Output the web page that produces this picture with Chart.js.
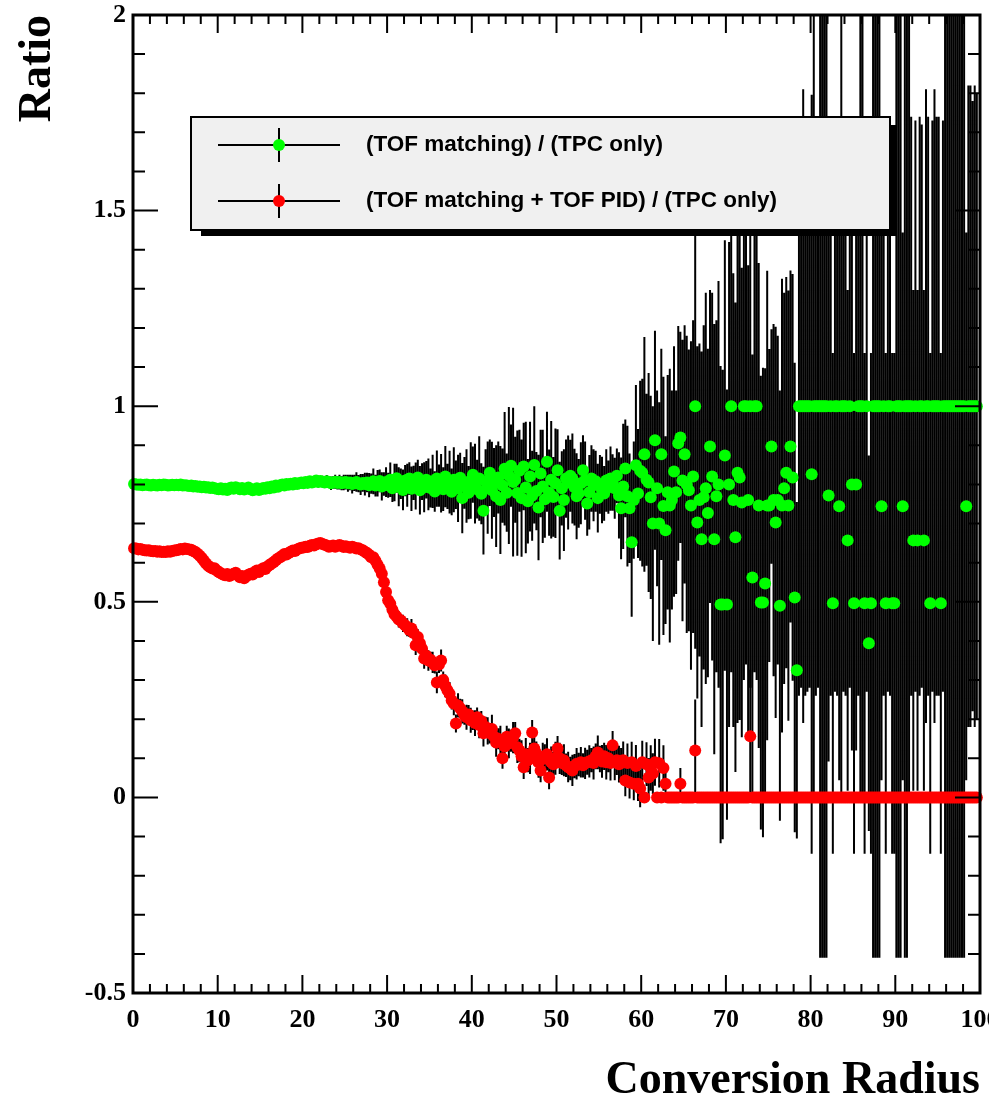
<!DOCTYPE html>
<html>
<head>
<meta charset="utf-8">
<title>Ratio vs Conversion Radius</title>
<script src="https://cdn.jsdelivr.net/npm/chart.js@4.4.1/dist/chart.umd.min.js"></script>
<style>
  html, body { margin: 0; padding: 0; background: #fff; }
  canvas { display: block; }
</style>
</head>
<body>
<canvas id="ratioChart" width="1007" height="1105"></canvas>
<script>
// Bins: 400 bins of 0.25 over 0..100
const nBins = 400;
const binWidth = 0.25;

// (TOF matching) / (TPC only) -- one row = 5 units of radius
const greenRatio = [
  0.801,0.800,0.799,0.800,0.798,0.799,0.800,0.798,0.797,0.799,0.798,0.797,0.799,0.798,0.800,0.799,0.797,0.798,0.799,0.798,
  0.799,0.798,0.800,0.797,0.798,0.797,0.796,0.797,0.795,0.796,0.794,0.795,0.793,0.794,0.792,0.793,0.791,0.792,0.790,0.789,
  0.788,0.790,0.787,0.789,0.786,0.790,0.792,0.789,0.793,0.790,0.788,0.791,0.787,0.789,0.792,0.788,0.785,0.787,0.790,0.786,
  0.788,0.791,0.789,0.793,0.790,0.795,0.792,0.797,0.794,0.798,0.800,0.797,0.801,0.799,0.802,0.800,0.804,0.801,0.803,0.805,
  0.803,0.806,0.804,0.808,0.805,0.807,0.810,0.806,0.809,0.807,0.805,0.808,0.806,0.803,0.805,0.807,0.804,0.806,0.803,0.805,
  0.806,0.803,0.805,0.801,0.804,0.806,0.802,0.800,0.804,0.801,0.805,0.798,0.802,0.808,0.797,0.803,0.809,0.795,0.801,0.806,
  0.798,0.812,0.790,0.805,0.816,0.794,0.802,0.786,0.810,0.798,0.815,0.789,0.804,0.796,0.818,0.785,0.807,0.793,0.812,0.800,
  0.791,0.808,0.782,0.815,0.797,0.803,0.788,0.820,0.795,0.806,0.781,0.812,0.799,0.790,0.817,0.765,0.804,0.796,0.779,0.810,
  0.825,0.802,0.788,0.815,0.776,0.733,0.808,0.792,0.830,0.785,0.805,0.770,0.818,0.760,0.797,0.840,0.779,0.823,0.848,0.806,
  0.812,0.778,0.835,0.765,0.846,0.792,0.757,0.820,0.771,0.850,0.783,0.741,0.828,0.795,0.762,0.858,0.779,0.812,0.768,0.803,
  0.836,0.733,0.790,0.760,0.815,0.805,0.822,0.815,0.793,0.770,0.777,0.803,0.836,0.810,0.751,0.780,0.815,0.798,0.808,0.765,
  0.800,0.786,0.777,0.810,0.793,0.815,0.805,0.790,0.822,0.772,0.739,0.795,0.841,0.770,0.739,0.652,0.760,0.849,0.777,0.835,
  0.830,0.877,0.812,0.805,0.767,0.700,0.913,0.790,0.700,0.877,0.745,0.683,0.780,0.746,0.760,0.833,0.780,0.905,0.920,0.810,
  0.877,0.800,0.785,0.746,0.820,1.000,0.703,0.760,0.660,0.767,0.790,0.727,0.897,0.820,0.660,0.770,0.800,0.493,0.493,0.874,
  0.493,0.800,1.000,0.760,0.665,0.830,0.818,0.754,1.000,1.000,0.760,1.000,0.562,1.000,1.000,0.746,0.498,0.498,0.547,0.746,
  0.746,0.897,0.760,0.703,0.760,0.490,0.746,0.790,0.830,0.746,0.897,0.818,0.511,0.325,1.000,1.000,1.000,1.000,1.000,1.000,
  0.826,1.000,1.000,1.000,1.000,1.000,1.000,1.000,0.772,1.000,0.496,1.000,1.000,0.744,1.000,1.000,1.000,0.657,1.000,0.800,
  0.496,0.800,1.000,1.000,1.000,0.496,1.000,0.394,0.496,1.000,1.000,1.000,1.000,0.744,1.000,0.496,1.000,1.000,0.496,0.496,
  1.000,1.000,1.000,0.744,1.000,1.000,1.000,1.000,0.657,1.000,0.657,1.000,1.000,0.657,1.000,1.000,0.496,1.000,1.000,1.000,
  1.000,0.496,1.000,1.000,1.000,1.000,1.000,1.000,1.000,1.000,1.000,1.000,1.000,0.744,1.000,1.000,1.000,1.000,1.000,null
];

const greenErr = [
  0.004,0.004,0.004,0.004,0.004,0.004,0.004,0.004,0.004,0.004,0.004,0.004,0.004,0.004,0.004,0.004,0.004,0.004,0.004,0.004,
  0.004,0.004,0.005,0.004,0.005,0.004,0.005,0.005,0.004,0.005,0.005,0.005,0.005,0.005,0.005,0.005,0.005,0.005,0.005,0.005,
  0.005,0.006,0.005,0.006,0.005,0.006,0.006,0.005,0.006,0.006,0.006,0.006,0.006,0.006,0.006,0.006,0.006,0.006,0.006,0.006,
  0.006,0.007,0.006,0.007,0.007,0.007,0.007,0.007,0.008,0.007,0.008,0.008,0.008,0.008,0.009,0.008,0.009,0.009,0.009,0.010,
  0.010,0.011,0.010,0.012,0.011,0.013,0.012,0.014,0.013,0.015,0.014,0.016,0.015,0.017,0.016,0.018,0.017,0.019,0.018,0.020,
  0.019,0.022,0.020,0.024,0.021,0.025,0.022,0.027,0.023,0.029,0.025,0.031,0.026,0.033,0.028,0.034,0.029,0.036,0.030,0.038,
  0.032,0.044,0.035,0.048,0.037,0.050,0.039,0.052,0.040,0.055,0.042,0.057,0.044,0.060,0.045,0.062,0.047,0.064,0.048,0.066,
  0.050,0.068,0.052,0.072,0.054,0.075,0.056,0.078,0.058,0.080,0.060,0.083,0.062,0.086,0.064,0.090,0.066,0.094,0.068,0.098,
  0.072,0.102,0.075,0.108,0.078,0.112,0.082,0.118,0.085,0.124,0.088,0.130,0.092,0.138,0.095,0.145,0.100,0.175,0.105,0.190,
  0.110,0.160,0.105,0.150,0.112,0.168,0.108,0.140,0.115,0.150,0.100,0.135,0.112,0.145,0.098,0.128,0.110,0.150,0.102,0.140,
  0.105,0.125,0.095,0.130,0.100,0.120,0.092,0.115,0.098,0.110,0.088,0.105,0.090,0.100,0.082,0.095,0.085,0.092,0.078,0.088,
  0.075,0.085,0.070,0.080,0.068,0.082,0.072,0.078,0.070,0.110,0.130,0.160,0.125,0.180,0.140,0.190,0.150,0.205,0.165,0.230,
  0.240,0.300,0.220,0.280,0.260,0.300,0.280,0.250,0.310,0.270,0.330,0.240,0.300,0.350,0.280,0.320,0.260,0.300,0.270,0.360,
  0.330,0.380,0.360,0.420,0.400,0.620,0.450,0.400,0.480,0.440,0.500,0.420,0.400,0.470,0.550,0.450,0.520,0.610,0.600,0.550,
  0.550,0.620,0.680,0.580,0.600,0.640,0.620,0.600,0.700,0.660,0.600,0.720,0.570,0.680,0.700,0.620,0.580,0.600,0.550,0.600,
  0.400,0.300,0.450,0.500,0.420,0.550,0.580,0.500,0.500,0.550,0.450,0.520,0.600,0.430,0.740,0.720,0.810,0.740,0.730,0.720,
  0.970,1.000,0.740,0.720,1.410,1.410,1.410,1.410,0.680,0.740,0.640,0.730,0.740,0.700,1.000,0.730,0.740,0.640,0.720,0.680,
  0.640,0.680,0.740,1.000,1.000,0.640,0.730,0.480,0.640,1.410,1.410,1.410,1.410,0.700,0.740,0.640,0.730,0.740,0.640,0.640,
  1.410,1.410,1.410,0.700,1.410,1.410,1.000,0.740,0.640,0.730,0.640,0.740,0.720,0.640,0.810,0.740,0.640,0.730,0.810,0.740,
  0.740,0.640,0.730,1.410,1.410,1.410,1.410,1.410,1.410,1.410,1.410,1.410,1.410,0.700,0.820,0.820,0.780,0.820,0.800,null
];

// (TOF matching + TOF PID) / (TPC only)
const redRatio = [
  0.637,0.636,0.634,0.635,0.633,0.632,0.631,0.632,0.630,0.629,0.630,0.628,0.629,0.627,0.628,0.627,0.629,0.628,0.630,0.631,
  0.632,0.633,0.635,0.634,0.636,0.635,0.634,0.633,0.630,0.627,0.623,0.618,0.612,0.605,0.598,0.592,0.588,0.585,0.586,0.580,
  0.576,0.573,0.570,0.568,0.571,0.566,0.569,0.572,0.574,0.568,0.563,0.566,0.560,0.565,0.569,0.572,0.570,0.576,0.580,0.576,
  0.582,0.586,0.584,0.590,0.594,0.598,0.602,0.606,0.611,0.614,0.618,0.622,0.621,0.625,0.628,0.631,0.630,0.634,0.636,0.638,
  0.639,0.641,0.640,0.643,0.645,0.644,0.647,0.649,0.650,0.648,0.646,0.644,0.641,0.642,0.644,0.641,0.643,0.645,0.643,0.640,
  0.642,0.640,0.638,0.641,0.639,0.636,0.637,0.634,0.632,0.628,0.625,0.620,0.614,0.614,0.605,0.595,0.585,0.572,0.550,0.525,
  0.504,0.495,0.480,0.468,0.462,0.455,0.452,0.445,0.440,0.435,0.428,0.432,0.420,0.389,0.410,0.394,0.380,0.355,0.362,0.350,
  0.352,0.345,0.338,0.294,0.340,0.350,0.300,0.285,0.274,0.265,0.248,0.240,0.189,0.235,0.228,0.220,0.210,0.205,0.212,0.197,
  0.197,0.190,0.205,0.185,0.195,0.164,0.180,0.170,0.164,0.175,0.155,0.140,0.150,0.146,0.100,0.130,0.155,0.138,0.145,0.153,
  0.164,0.128,0.120,0.105,0.077,0.110,0.095,0.100,0.166,0.125,0.112,0.090,0.069,0.098,0.105,0.110,0.051,0.090,0.085,0.100,
  0.125,0.100,0.088,0.095,0.082,0.078,0.074,0.069,0.080,0.086,0.084,0.090,0.082,0.087,0.090,0.092,0.095,0.088,0.105,0.115,
  0.098,0.092,0.105,0.090,0.100,0.088,0.133,0.090,0.095,0.085,0.088,0.095,0.043,0.088,0.038,0.090,0.035,0.080,0.035,0.023,
  0.090,0.000,0.085,0.051,0.075,0.061,0.090,0.000,0.087,0.000,0.075,0.035,0.000,0.000,0.000,0.000,0.000,0.000,0.035,0.000,
  0.000,0.000,0.000,0.000,0.000,0.120,0.000,0.000,0.000,0.000,0.000,0.000,0.000,0.000,0.000,0.000,0.000,0.000,0.000,0.000,
  0.000,0.000,0.000,0.000,0.000,0.000,0.000,0.000,0.000,0.000,0.000,0.156,0.000,0.000,0.000,0.000,0.000,0.000,0.000,0.000,
  0.000,0.000,0.000,0.000,0.000,0.000,0.000,0.000,0.000,0.000,0.000,0.000,0.000,0.000,0.000,0.000,0.000,0.000,0.000,0.000,
  0.000,0.000,0.000,0.000,0.000,0.000,0.000,0.000,0.000,0.000,0.000,0.000,0.000,0.000,0.000,0.000,0.000,0.000,0.000,0.000,
  0.000,0.000,0.000,0.000,0.000,0.000,0.000,0.000,0.000,0.000,0.000,0.000,0.000,0.000,0.000,0.000,0.000,0.000,0.000,0.000,
  0.000,0.000,0.000,0.000,0.000,0.000,0.000,0.000,0.000,0.000,0.000,0.000,0.000,0.000,0.000,0.000,0.000,0.000,0.000,0.000,
  0.000,0.000,0.000,0.000,0.000,0.000,0.000,0.000,0.000,0.000,0.000,0.000,0.000,0.000,0.000,0.000,0.000,0.000,0.000,null
];

const redErr = [
  0.004,0.004,0.004,0.004,0.004,0.004,0.004,0.004,0.004,0.004,0.004,0.004,0.004,0.004,0.004,0.004,0.004,0.004,0.004,0.004,
  0.004,0.004,0.004,0.005,0.004,0.005,0.004,0.005,0.005,0.005,0.005,0.005,0.005,0.005,0.005,0.005,0.005,0.005,0.005,0.005,
  0.005,0.005,0.005,0.005,0.005,0.005,0.005,0.005,0.005,0.005,0.005,0.005,0.005,0.005,0.005,0.005,0.005,0.005,0.005,0.005,
  0.005,0.005,0.005,0.005,0.005,0.005,0.005,0.005,0.005,0.005,0.005,0.006,0.005,0.006,0.005,0.006,0.005,0.006,0.006,0.006,
  0.006,0.006,0.006,0.006,0.006,0.006,0.006,0.006,0.006,0.006,0.006,0.006,0.006,0.006,0.006,0.006,0.006,0.006,0.006,0.006,
  0.006,0.007,0.007,0.007,0.007,0.008,0.008,0.008,0.008,0.009,0.009,0.009,0.010,0.010,0.010,0.011,0.011,0.011,0.012,0.012,
  0.014,0.018,0.015,0.020,0.016,0.021,0.017,0.022,0.018,0.023,0.018,0.024,0.019,0.025,0.020,0.025,0.020,0.026,0.021,0.026,
  0.020,0.027,0.021,0.028,0.022,0.028,0.022,0.029,0.022,0.030,0.023,0.030,0.023,0.031,0.024,0.031,0.024,0.032,0.024,0.032,
  0.025,0.033,0.025,0.034,0.026,0.034,0.026,0.035,0.026,0.036,0.027,0.036,0.027,0.037,0.027,0.037,0.028,0.038,0.028,0.040,
  0.029,0.040,0.030,0.041,0.030,0.042,0.031,0.040,0.032,0.043,0.031,0.040,0.030,0.042,0.031,0.041,0.030,0.040,0.031,0.042,
  0.032,0.040,0.031,0.041,0.030,0.039,0.030,0.040,0.031,0.040,0.030,0.039,0.031,0.040,0.032,0.041,0.031,0.042,0.033,0.043,
  0.034,0.042,0.035,0.044,0.036,0.045,0.037,0.046,0.038,0.047,0.038,0.048,0.040,0.050,0.041,0.052,0.042,0.054,0.044,0.048,
  0.055,0.000,0.056,0.050,0.058,0.052,0.060,0.000,0.062,0.000,0.058,0.040,0.000,0.000,0.000,0.000,0.000,0.000,0.040,0.000,
  0.000,0.000,0.000,0.000,0.000,0.130,0.000,0.000,0.000,0.000,0.000,0.000,0.000,0.000,0.000,0.000,0.000,0.000,0.000,0.000,
  0.000,0.000,0.000,0.000,0.000,0.000,0.000,0.000,0.000,0.000,0.000,0.170,0.000,0.000,0.000,0.000,0.000,0.000,0.000,0.000,
  0.000,0.000,0.000,0.000,0.000,0.000,0.000,0.000,0.000,0.000,0.000,0.000,0.000,0.000,0.000,0.000,0.000,0.000,0.000,0.000,
  0.000,0.000,0.000,0.000,0.000,0.000,0.000,0.000,0.000,0.000,0.000,0.000,0.000,0.000,0.000,0.000,0.000,0.000,0.000,0.000,
  0.000,0.000,0.000,0.000,0.000,0.000,0.000,0.000,0.000,0.000,0.000,0.000,0.000,0.000,0.000,0.000,0.000,0.000,0.000,0.000,
  0.000,0.000,0.000,0.000,0.000,0.000,0.000,0.000,0.000,0.000,0.000,0.000,0.000,0.000,0.000,0.000,0.000,0.000,0.000,0.000,
  0.000,0.000,0.000,0.000,0.000,0.000,0.000,0.000,0.000,0.000,0.000,0.000,0.000,0.000,0.000,0.000,0.000,0.000,0.000,null
];

const seriesLabels = ['(TOF matching) / (TPC only)', '(TOF matching + TOF PID) / (TPC only)'];
const seriesColors = ['#00ff00', '#ff0000'];

// bin centres
const radius = Array.from({ length: nBins }, (_, i) => (i + 0.5) * binWidth);

function toPoints(values, errors) {
    return radius.map((r, i) => ({ x: r, y: values[i], err: errors[i] }));
}

/**
 * Vertical error bars, drawn just before the markers of each dataset
 */
const errorBars = {
    id: 'errorBars',
    beforeDatasetDraw(chart, args) {
        const { ctx, chartArea: a } = chart;
        const yScale = chart.scales.y;
        const raw = chart.data.datasets[args.index].data;
        ctx.save();
        ctx.beginPath();
        ctx.rect(a.left, a.top, a.right - a.left, a.bottom - a.top);
        ctx.clip();
        ctx.strokeStyle = '#000';
        ctx.lineWidth = 2;
        ctx.beginPath();
        args.meta.data.forEach((el, i) => {
            const p = raw[i];
            if (!p || p.y == null || !p.err || !isFinite(el.x)) return;
            ctx.moveTo(el.x, yScale.getPixelForValue(p.y - p.err));
            ctx.lineTo(el.x, yScale.getPixelForValue(p.y + p.err));
        });
        ctx.stroke();
        ctx.restore();
    }
};

/**
 * ROOT style frame with inward ticks on all four sides
 */
const rootFrame = {
    id: 'rootFrame',
    afterDatasetsDraw(chart) {
        const { ctx, chartArea: a, scales: { x, y } } = chart;
        ctx.save();
        ctx.strokeStyle = '#000';
        ctx.lineWidth = 2;
        ctx.beginPath();
        for (let v = 0; v <= 100 + 1e-9; v += 2) {
            const px = x.getPixelForValue(v);
            const len = Math.abs(v % 10) < 1e-9 ? 18 : 9;
            ctx.moveTo(px, a.bottom); ctx.lineTo(px, a.bottom - len);
            ctx.moveTo(px, a.top); ctx.lineTo(px, a.top + len);
        }
        for (let k = -5; k <= 20; k++) {
            const py = y.getPixelForValue(k / 10);
            const len = k % 5 === 0 ? 25 : 12;
            ctx.moveTo(a.left, py); ctx.lineTo(a.left + len, py);
            ctx.moveTo(a.right, py); ctx.lineTo(a.right - len, py);
        }
        ctx.stroke();
        ctx.lineWidth = 3;
        ctx.strokeRect(a.left, a.top, a.right - a.left, a.bottom - a.top);
        ctx.restore();
    }
};

/**
 * Legend box drawn like the ROOT TLegend (shadowed box, line + error tick + marker)
 */
const rootLegend = {
    id: 'rootLegend',
    afterDatasetsDraw(chart, args, opts) {
        const ctx = chart.ctx;
        const { left, top, width, height } = opts;
        ctx.save();
        ctx.fillStyle = '#000';
        ctx.fillRect(left + 10, top + 8, width - 4, height - 2);
        ctx.fillStyle = '#f0f0f0';
        ctx.fillRect(left, top, width, height);
        ctx.lineWidth = 2;
        ctx.strokeStyle = '#000';
        ctx.strokeRect(left, top, width, height);
        chart.data.datasets.forEach((ds, i) => {
            const cy = top + 28 + i * 56;
            ctx.beginPath();
            ctx.lineWidth = 2;
            ctx.moveTo(left + 27, cy); ctx.lineTo(left + 149, cy);
            ctx.moveTo(left + 88, cy - 17); ctx.lineTo(left + 88, cy + 17);
            ctx.stroke();
            ctx.beginPath();
            ctx.fillStyle = ds.backgroundColor;
            ctx.arc(left + 88, cy, 6, 0, Math.PI * 2);
            ctx.fill();
            ctx.fillStyle = '#000';
            ctx.font = 'bold 22.5px "Liberation Sans", Arial, sans-serif';
            ctx.textBaseline = 'middle';
            ctx.textAlign = 'left';
            ctx.fillText(ds.label, left + 175, cy);
        });
        ctx.restore();
    }
};

// the original picture is cut at its right edge
const cropEdge = {
    id: 'cropEdge',
    afterDraw(chart) {
        const ctx = chart.ctx;
        ctx.save();
        ctx.fillStyle = '#fff';
        ctx.fillRect(989, 0, chart.width - 989, chart.height);
        ctx.restore();
    }
};

const tickFont = { family: '"Liberation Serif", "Times New Roman", serif', weight: 'bold', size: 26 };
const titleFont = { family: '"Liberation Serif", "Times New Roman", serif', weight: 'bold', size: 46, lineHeight: 1 };

const ctx = document.getElementById('ratioChart').getContext('2d');
const ratioChart = new Chart(ctx, {
    type: 'scatter',
    data: {
        datasets: [
            {
                label: seriesLabels[0],
                data: toPoints(greenRatio, greenErr),
                backgroundColor: seriesColors[0],
                borderColor: seriesColors[0],
                pointRadius: 6,
                pointBorderWidth: 0,
                pointHoverRadius: 6,
                showLine: false,
                clip: false,
                order: 1
            },
            {
                label: seriesLabels[1],
                data: toPoints(redRatio, redErr),
                backgroundColor: seriesColors[1],
                borderColor: seriesColors[1],
                pointRadius: 6,
                pointBorderWidth: 0,
                pointHoverRadius: 6,
                showLine: false,
                clip: false,
                order: 0
            }
        ]
    },
    options: {
        responsive: false,
        animation: false,
        devicePixelRatio: 1,
        events: [],
        layout: { padding: { top: 15, right: 27, left: 0, bottom: 0 } },
        plugins: {
            legend: { display: false },
            tooltip: { enabled: false },
            rootLegend: { left: 191, top: 117, width: 699, height: 113 }
        },
        scales: {
            x: {
                type: 'linear',
                min: 0,
                max: 100,
                grid: { display: false, drawTicks: false },
                border: { display: false },
                ticks: { stepSize: 10, padding: 12, color: '#000', font: tickFont, maxRotation: 0, autoSkip: false },
                title: {
                    display: true,
                    text: 'Conversion Radius',
                    align: 'end',
                    color: '#000',
                    font: titleFont,
                    padding: { top: 0, bottom: 1 }
                },
                afterFit: (scale) => {
                    scale.height = 112;
                    scale.paddingLeft = 0;
                    scale.paddingRight = 0;
                }
            },
            y: {
                type: 'linear',
                min: -0.5,
                max: 2,
                grid: { display: false, drawTicks: false },
                border: { display: false },
                ticks: {
                    stepSize: 0.5,
                    padding: 7,
                    color: '#000',
                    font: tickFont,
                    callback: (v) => String(Math.round(v * 10) / 10)
                },
                title: {
                    display: true,
                    text: 'Ratio',
                    align: 'end',
                    color: '#000',
                    font: titleFont,
                    padding: { top: 15, bottom: 0 }
                },
                afterFit: (scale) => {
                    scale.width = 133;
                    scale.paddingTop = 0;
                    scale.paddingBottom = 0;
                }
            }
        }
    },
    plugins: [errorBars, rootFrame, rootLegend, cropEdge]
});
</script>
</body>
</html>
